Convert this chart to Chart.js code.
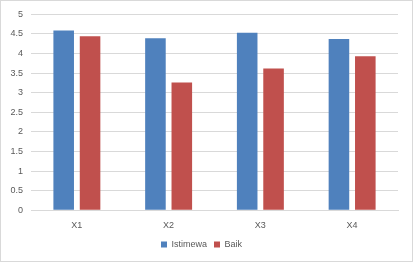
<!DOCTYPE html>
<html>
<head>
<meta charset="utf-8">
<script src="https://cdn.jsdelivr.net/npm/chart.js@4/dist/chart.umd.min.js"></script>
<style>
  html, body { margin: 0; padding: 0; background: #fff; }
  #wrap { width: 411px; height: 260px; border: 1px solid #d9d9d9; }
</style>
</head>
<body>
<div id="wrap"><canvas id="barChart" width="411" height="260"></canvas></div>
<script>
const categories = ['X1', 'X2', 'X3', 'X4'];
const istimewa = [4.59, 4.39, 4.53, 4.37];
const baik = [4.44, 3.26, 3.62, 3.93];
const yTicks = [0, 0.5, 1, 1.5, 2, 2.5, 3, 3.5, 4, 4.5, 5];

Chart.defaults.font.family = "'Liberation Sans', 'DejaVu Sans', sans-serif";
Chart.defaults.font.size = 9;
Chart.defaults.color = '#595959';

const ctx = document.getElementById('barChart').getContext('2d');
new Chart(ctx, {
  type: 'bar',
  data: {
    labels: categories,
    datasets: [
      { label: 'Istimewa', data: istimewa, backgroundColor: '#4F81BD' },
      { label: 'Baik', data: baik, backgroundColor: '#C0504D' }
    ]
  },
  options: {
    responsive: false,
    animation: false,
    categoryPercentage: 0.575,
    barPercentage: 0.78,
    layout: { padding: { top: 10, right: 14, left: 4, bottom: 2 } },
    scales: {
      x: {
        grid: { display: false },
        border: { color: '#d9d9d9' },
        ticks: { padding: 2 }
      },
      y: {
        min: 0,
        max: 5,
        afterBuildTicks: scale => { scale.ticks = yTicks.map(v => ({ value: v })); },
        afterFit: scale => { scale.width = 26; },
        grid: { color: '#d9d9d9', drawTicks: false },
        border: { display: false },
        ticks: { padding: 8, callback: v => String(v) }
      }
    },
    plugins: {
      legend: {
        position: 'bottom',
        labels: { boxWidth: 6, boxHeight: 6, padding: 7 }
      },
      tooltip: { enabled: false }
    }
  }
});
</script>
</body>
</html>
